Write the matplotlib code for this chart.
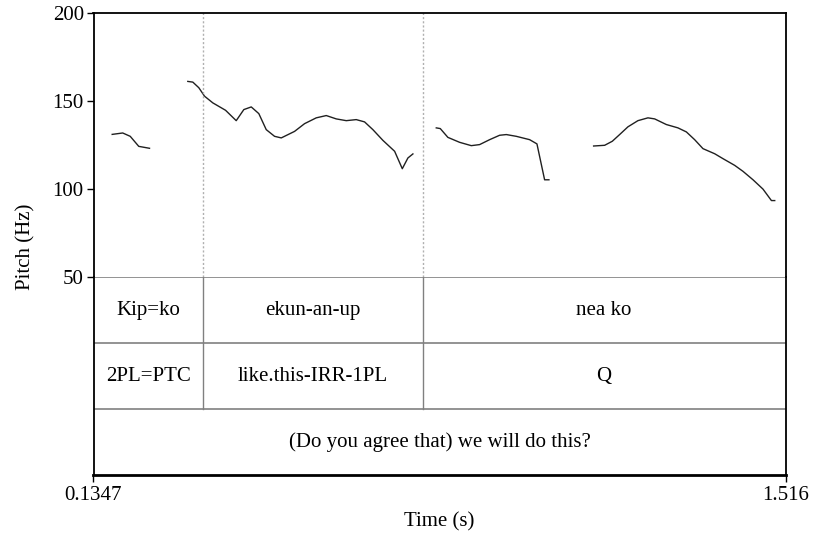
import matplotlib
matplotlib.use("Agg")
import matplotlib.pyplot as plt
import numpy as np

plt.rcParams['font.family'] = ['Liberation Serif', 'DejaVu Serif']

# Time range of the excerpt (s)
t_start, t_end = 0.1347, 1.516

# Pitch track, voiced stretches (time in s, F0 in Hz)
seg1_t = [0.172, 0.193, 0.208, 0.225, 0.2465]
seg1_f = [131.2, 132.0, 130.1, 124.4, 123.3]

seg2_t = [0.3229, 0.3329, 0.3449, 0.3563, 0.3728, 0.3982, 0.4195, 0.4347, 0.4495,
          0.4646, 0.4794, 0.4960, 0.5094, 0.5359, 0.5559, 0.5792, 0.5992, 0.6191,
          0.6391, 0.6590, 0.6756, 0.6922, 0.7122, 0.7356, 0.7509, 0.7621, 0.7721]
seg2_f = [161.3, 160.9, 157.7, 152.9, 149.1, 144.9, 139.0, 145.3, 146.8,
          143.0, 133.9, 130.1, 129.2, 132.9, 137.3, 140.6, 141.9, 140.0,
          139.0, 139.6, 138.3, 133.9, 127.8, 121.6, 111.7, 117.8, 120.1]

seg3_t = [0.8187, 0.8267, 0.8419, 0.8652, 0.8886, 0.9052, 0.9252, 0.9451, 0.9585,
          0.9784, 1.0050, 1.0196, 1.0349, 1.0435]
seg3_f = [134.9, 134.5, 129.5, 126.7, 124.8, 125.4, 128.2, 130.7, 131.1,
          130.1, 128.2, 125.8, 105.4, 105.4]

seg4_t = [1.1327, 1.1547, 1.1700, 1.1846, 1.2012, 1.2211, 1.2411, 1.2545, 1.2778,
          1.3010, 1.3178, 1.3343, 1.3509, 1.3743, 1.3909, 1.4142, 1.4308, 1.4508,
          1.4707, 1.4875, 1.4941]
seg4_f = [124.6, 125.0, 127.3, 131.1, 135.5, 139.0, 140.6, 140.0, 136.8,
          134.9, 132.6, 128.2, 123.1, 120.2, 117.4, 113.6, 110.2, 105.4,
          100.1, 93.6, 93.6]

# Text grid: word boundaries and labels per tier
boundaries = [0.3523, 0.7914]
words = ["Kip=ko", "ekun-an-up", "nea ko"]
glosses = ["2PL=PTC", "like.this-IRR-1PL", "Q"]
translation = "(Do you agree that) we will do this?"

pitch_ticks = [50, 100, 150, 200]

FS = 15

W, H = 814, 533
fig = plt.figure(figsize=(W / 100, H / 100), dpi=100)

x0, x1 = 93.5, 785.7
y_top, y_mid, y_bot = 13.3, 277.3, 475.0


def rect(xa, xb, ya, yb):
    return [xa / W, 1 - yb / H, (xb - xa) / W, (yb - ya) / H]


# Pitch panel
ax = fig.add_axes(rect(x0, x1, y_top, y_mid))
for t, f in [(seg1_t, seg1_f), (seg2_t, seg2_f), (seg3_t, seg3_f), (seg4_t, seg4_f)]:
    ax.plot(t, f, color='#202020', lw=1.0)
for b in boundaries:
    ax.axvline(b, color='#b0b0b0', lw=1.0, ls=(0, (1.5, 1.5)))
ax.set_xlim(t_start, t_end)
ax.set_ylim(50, 200)
ax.set_yticks(pitch_ticks)
ax.set_yticklabels([str(v) for v in pitch_ticks], fontsize=FS)
ax.tick_params(axis='y', direction='out', length=5, width=1, pad=2)
ax.set_xticks([])
for s in ['left', 'top', 'right']:
    ax.spines[s].set_color('black')
    ax.spines[s].set_linewidth(1.3)
ax.spines['bottom'].set_visible(False)

fig.text(26 / W, 1 - 247 / H, "Pitch (Hz)", fontsize=FS, rotation=90,
         ha='center', va='center')

# Text grid panel (three tiers)
tx = fig.add_axes(rect(x0, x1, y_mid, y_bot))
tx.set_xlim(t_start, t_end)
tx.set_ylim(0, 3)
for y in [1, 2, 3]:
    tx.axhline(y, color='#808080', lw=1.2)
edges = [t_start] + boundaries + [t_end]
for b in boundaries:
    tx.plot([b, b], [1, 3], color='#808080', lw=1.0)
for i in range(3):
    xc = (edges[i] + edges[i + 1]) / 2
    tx.text(xc, 2.5, words[i], ha='center', va='center', fontsize=FS)
    tx.text(xc, 1.5, glosses[i], ha='center', va='center', fontsize=FS)
tx.text((t_start + t_end) / 2, 0.5, translation, ha='center', va='center', fontsize=FS)
tx.set_yticks([])
tx.set_xticks([t_start, t_end])
tx.set_xticklabels(["0.1347", "1.516"], fontsize=FS)
tx.tick_params(axis='x', direction='out', length=5, width=1, pad=3)
for s in ['left', 'right', 'bottom']:
    tx.spines[s].set_color('black')
    tx.spines[s].set_linewidth(1.3)
tx.spines['bottom'].set_linewidth(2.0)
tx.spines['top'].set_visible(False)
tx.set_xlabel("Time (s)", fontsize=FS, labelpad=5)

fig.savefig("out.png", dpi=100)
